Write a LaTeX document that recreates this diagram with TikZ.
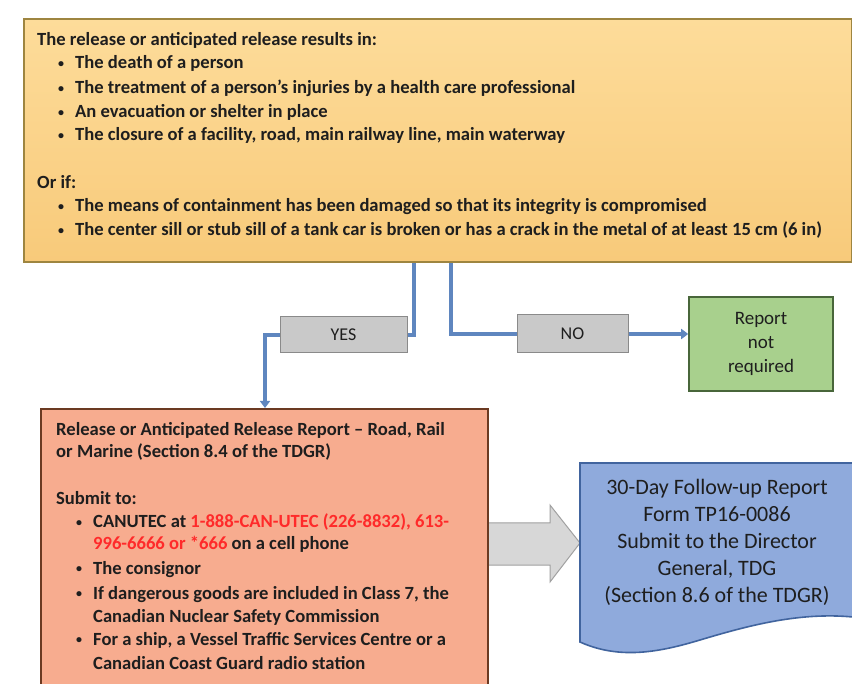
\documentclass[tikz,border=0pt]{standalone}
\usepackage{fontspec}
\setmainfont{Carlito}
\usetikzlibrary{arrows.meta}
\definecolor{topfillA}{HTML}{FDDC9A}
\definecolor{topfillB}{HTML}{F8CA7A}
\definecolor{topline}{HTML}{9E8540}
\definecolor{redfill}{HTML}{F7AC8F}
\definecolor{redline}{HTML}{6B3A22}
\definecolor{greenfill}{HTML}{A8D08D}
\definecolor{greenline}{HTML}{48663A}
\definecolor{grayfill}{HTML}{C9C9C9}
\definecolor{grayline}{HTML}{8A8A8A}
\definecolor{bluefill}{HTML}{8FAADC}
\definecolor{blueline}{HTML}{41649E}
\definecolor{connc}{HTML}{5F86BF}
\definecolor{phone}{HTML}{FF2A2A}
\definecolor{txt}{HTML}{1E1E1E}
\tikzset{
  topbox/.style={draw=topline, line width=2pt, top color=topfillA, bottom color=topfillB, anchor=north west, inner sep=0pt},
  redbox/.style={draw=redline, line width=1.6pt, fill=redfill, anchor=north west, inner sep=0pt},
  greenbox/.style={draw=greenline, line width=1.6pt, fill=greenfill, align=center, text=txt, font=\fontsize{19}{24}\selectfont},
  graybox/.style={draw=grayline, line width=1pt, fill=grayfill, text=txt, font=\fontsize{18}{22}\selectfont},
  line/.style={anchor=base west, inner sep=0pt, text=txt, font=\fontsize{18.6}{23}\selectfont\bfseries},
  conn/.style={draw=connc, line width=3.2pt},
  tip/.style={-{Triangle[width=10pt,length=7pt]}}
}
\newcommand{\bul}{\llap{\raisebox{1.5pt}{\fontsize{12}{12}\selectfont\textbullet}\hspace{11pt}}}
\begin{document}
\begin{tikzpicture}[x=1pt,y=-1pt]
\useasboundingbox (0,0) rectangle (852,684);
\fill[white] (0,0) rectangle (852,684);

% top box
\node[topbox, minimum width=828, minimum height=243] (top) at (23,18) {};
\node[line] (t1) at (37,46) {The release or anticipated release results in:};
\node[line] (t2) at (75,69) {\bul The death of a person};
\node[line] (t3) at (75,94) {\bul The treatment of a person’s injuries by a health care professional};
\node[line] (t4) at (75,118) {\bul An evacuation or shelter in place};
\node[line] (t5) at (75,141) {\bul The closure of a facility, road, main railway line, main waterway};
\node[line] (t6) at (37,189) {Or if:};
\node[line] (t7) at (75,212) {\bul The means of containment has been damaged so that its integrity is compromised};
\node[line] (t8) at (75,236) {\bul The center sill or stub sill of a tank car is broken or has a crack in the metal of at least 15 cm (6 in)};

% decision boxes
\node[graybox, minimum width=127, minimum height=36] (yes) at (343.5,335) {YES};
\node[graybox, minimum width=111, minimum height=38] (no) at (572.5,334) {NO};
\node[greenbox, minimum width=144, minimum height=94] (nr) at (761,344) {Report\\not\\required};

% gray block arrow (behind red box)
\filldraw[fill=grayfill!75!white, draw=grayline!80!white, line width=1pt]
  (480,523) -- (550,523) -- (550,505) -- (580,543) -- (550,582) -- (550,565) -- (480,565) -- cycle;

% red box
\node[redbox, minimum width=447, minimum height=290] (red) at (40,408) {};
\node[line] (r1) at (56,436) {Release or Anticipated Release Report – Road, Rail};
\node[line] (r2) at (56,458) {or Marine (Section 8.4 of the TDGR)};
\node[line] (r3) at (56,504) {Submit to:};
\node[line] (r4) at (93,528) {\bul CANUTEC at \textcolor{phone}{1-888-CAN-UTEC (226-8832), 613-}};
\node[line] (r5) at (93,550) {\textcolor{phone}{996-6666 or *666} on a cell phone};
\node[line] (r6) at (93,574) {\bul The consignor};
\node[line] (r7) at (93,599) {\bul If dangerous goods are included in Class 7, the};
\node[line] (r8) at (93,622) {Canadian Nuclear Safety Commission};
\node[line] (r9) at (93,645) {\bul For a ship, a Vessel Traffic Services Centre or a};
\node[line] (r10) at (93,669) {Canadian Coast Guard radio station};

% blue document
\filldraw[fill=bluefill, draw=blueline, line width=1.6pt]
  (580,463) -- (853,463) -- (853,617)
  .. controls (800,612) and (750,625) .. (700,640)
  .. controls (660,652) and (620,660) .. (580,642) -- cycle;
\node[align=center, text=txt, font=\fontsize{22}{27}\selectfont] (fu) at (717,542)
  {30-Day Follow-up Report\\Form TP16-0086\\Submit to the Director\\General, TDG\\(Section 8.6 of the TDGR)};

% connectors
\coordinate (yesjoin) at (414,335);
\coordinate (yesdrop) at (265,335);
\coordinate (nojoin) at (451,334);
\draw[conn] (top.south -| yesjoin) -- (yesjoin) -- (yes.east);
\draw[conn, tip] (yes.west) -- (yesdrop) -- (red.north -| yesdrop);
\draw[conn] (top.south -| nojoin) -- (nojoin) -- (no.west);
\draw[conn, tip] (no.east) -- (nr.west |- no.east);
\end{tikzpicture}
\end{document}
